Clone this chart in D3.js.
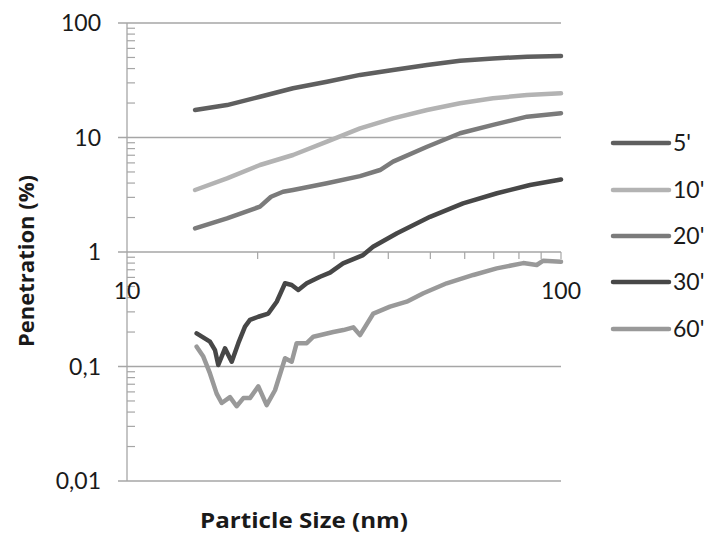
<!DOCTYPE html>
<html>
<head>
<meta charset="utf-8">
<script src="https://cdn.jsdelivr.net/npm/d3@7"></script>
<style>
  body { margin: 0; background: #fff; }
  text { font-family: Lato, "Open Sans", sans-serif; fill: #1a1a1a; }
  .tick-label { font-size: 23px; }
  .axis-title { font-family: "Open Sans", sans-serif; font-size: 21.5px; font-weight: bold; }
</style>
</head>
<body>
<svg id="chart" width="709" height="535"></svg>
<script>
// particle size (nm) / penetration (%)
const s5 = [[14.35, 17.4], [17.0, 19.2], [20.25, 22.7], [24.13, 26.9], [28.89, 30.7], [34.43, 35.2], [41.02, 38.9], [49.13, 43], [58.53, 46.9], [69.71, 49], [83.51, 50.8], [100, 51.5]]
const s10 = [[14.35, 3.48], [17.0, 4.4], [20.25, 5.75], [24.13, 7.03], [28.89, 9.2], [34.43, 12.0], [41.02, 14.7], [49.13, 17.4], [58.53, 19.9], [69.71, 22.0], [83.51, 23.5], [100, 24.3]]
const s20 = [[14.35, 1.61], [17.0, 1.97], [20.25, 2.49], [21.47, 3.04], [22.88, 3.36], [24.13, 3.48], [28.89, 3.98], [34.43, 4.6], [38.29, 5.2], [41.02, 6.15], [49.13, 8.3], [58.53, 10.9], [69.71, 12.9], [83.51, 15.2], [100, 16.3]]
const s30 = [[14.47, 0.195], [15.53, 0.165], [15.95, 0.139], [16.23, 0.103], [16.82, 0.144], [17.43, 0.110], [18.05, 0.16], [18.70, 0.223], [19.20, 0.255], [20.07, 0.272], [21.16, 0.29], [22.13, 0.368], [23.13, 0.533], [23.96, 0.515], [24.81, 0.466], [25.95, 0.533], [27.85, 0.608], [29.36, 0.66], [31.46, 0.796], [34.99, 0.94], [36.89, 1.11], [41.90, 1.46], [49.92, 2.03], [59.47, 2.66], [71.21, 3.26], [84.85, 3.85], [100, 4.3]]
const s60 = [[14.47, 0.149], [14.99, 0.122], [15.53, 0.087], [16.09, 0.058], [16.53, 0.048], [17.27, 0.054], [17.89, 0.045], [18.54, 0.053], [19.20, 0.053], [20.07, 0.067], [20.98, 0.046], [21.93, 0.062], [23.13, 0.118], [23.96, 0.11], [24.60, 0.16], [25.95, 0.16], [26.88, 0.182], [29.88, 0.2], [31.51, 0.208], [33.22, 0.22], [34.43, 0.188], [36.95, 0.29], [40.36, 0.333], [44.11, 0.368], [48.18, 0.436], [54.53, 0.533], [62.81, 0.63], [71.09, 0.72], [81.87, 0.80], [87.90, 0.77], [91.05, 0.84], [100, 0.82]]

const seriesNames = ["5'", "10'", "20'", "30'", "60'"]
const seriesData = [s5, s10, s20, s30, s60]
const seriesColors = ["#5f5f5f", "#b3b3b3", "#7b7b7b", "#474747", "#999999"]

const yTicks = [0.01, 0.1, 1, 10, 100]
const yTickLabels = ["0,01", "0,1", "1", "10", "100"]
const xTicks = [10, 100]
const xTickLabels = ["10", "100"]

const svg = d3.select("#chart")
const x = d3.scaleLog().domain([10, 100]).range([127, 561])
const y = d3.scaleLog().domain([0.01, 100]).range([481, 23])
const gridColor = "#a6a6a6"

// horizontal gridlines (stick out left as major ticks)
svg.append("g").selectAll("line")
  .data(yTicks)
  .join("line")
  .attr("x1", x(10) - 9).attr("x2", x(100))
  .attr("y1", d => y(d)).attr("y2", d => y(d))
  .attr("stroke", gridColor).attr("stroke-width", 1.3)

// minor ticks on y axis, inside the plot
const yMinor = []
for (let e = -2; e < 2; e++) for (let m = 2; m < 10; m++) yMinor.push(m * Math.pow(10, e))
svg.append("g").selectAll("line")
  .data(yMinor)
  .join("line")
  .attr("x1", x(10)).attr("x2", x(10) + 8)
  .attr("y1", d => y(d)).attr("y2", d => y(d))
  .attr("stroke", gridColor).attr("stroke-width", 1.2)

// minor ticks on the x axis (crosses at 1), below it
const xMinor = [20, 30, 40, 50, 60, 70, 80, 90, 100]
svg.append("g").selectAll("line")
  .data(xMinor)
  .join("line")
  .attr("x1", d => x(d)).attr("x2", d => x(d))
  .attr("y1", y(1)).attr("y2", y(1) + 7)
  .attr("stroke", gridColor).attr("stroke-width", 1.2)

svg.append("line")
  .attr("x1", x(10)).attr("x2", x(10))
  .attr("y1", y(100)).attr("y2", y(0.01))
  .attr("stroke", gridColor).attr("stroke-width", 1.3)

// tick labels
svg.append("g").selectAll("text")
  .data(yTicks)
  .join("text")
  .attr("class", "tick-label")
  .attr("x", 101)
  .attr("y", d => y(d))
  .attr("dy", "0.36em")
  .attr("text-anchor", "end")
  .text((d, i) => yTickLabels[i])

svg.append("g").selectAll("text")
  .data(xTicks)
  .join("text")
  .attr("class", "tick-label")
  .attr("x", d => x(d))
  .attr("y", y(1) + 47)
  .attr("text-anchor", "middle")
  .text((d, i) => xTickLabels[i])

// series
const line = d3.line().x(d => x(d[0])).y(d => y(d[1]))
seriesData.forEach((s, i) => {
  svg.append("path")
    .datum(s)
    .attr("d", line)
    .attr("fill", "none")
    .attr("stroke", seriesColors[i])
    .attr("stroke-width", 4.5)
    .attr("stroke-linejoin", "round")
    .attr("stroke-linecap", "round")
})

// legend
const legendY = [143, 190, 236, 282, 329]
const legend = svg.append("g")
seriesNames.forEach((n, i) => {
  legend.append("line")
    .attr("x1", 613).attr("x2", 669)
    .attr("y1", legendY[i]).attr("y2", legendY[i])
    .attr("stroke", seriesColors[i])
    .attr("stroke-width", 4.5)
    .attr("stroke-linecap", "round")
  legend.append("text")
    .attr("class", "tick-label")
    .attr("x", 673)
    .attr("y", legendY[i])
    .attr("dy", "0.36em")
    .text(n)
})

// axis titles
svg.append("text")
  .attr("class", "axis-title")
  .attr("transform", `translate(34, 261) rotate(-90)`)
  .attr("text-anchor", "middle")
  .attr("textLength", 172)
  .attr("lengthAdjust", "spacingAndGlyphs")
  .text("Penetration (%)")

svg.append("text")
  .attr("class", "axis-title")
  .attr("x", 304)
  .attr("y", 528)
  .attr("text-anchor", "middle")
  .attr("textLength", 208)
  .attr("lengthAdjust", "spacingAndGlyphs")
  .text("Particle Size (nm)")
</script>
</body>
</html>
